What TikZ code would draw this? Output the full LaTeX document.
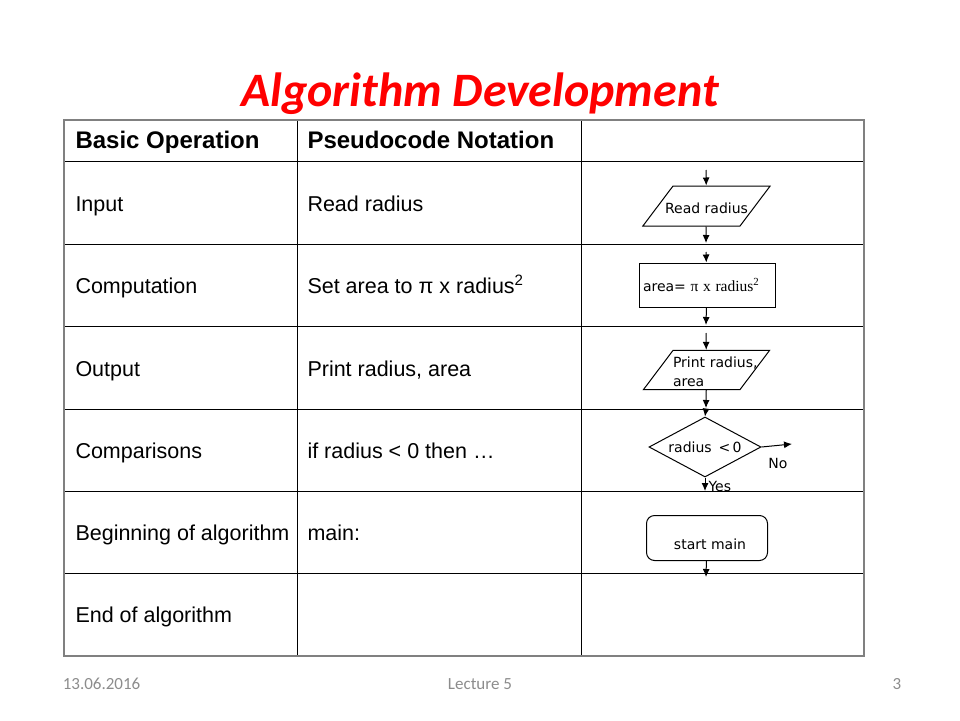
\documentclass[tikz,border=0pt]{standalone}
\usepackage{fontspec}
\setmainfont{Liberation Sans}
\newfontfamily\titlefont{Carlito}
\newfontfamily\chartfont{DejaVu Sans}
\newfontfamily\timesfont{Liberation Serif}
\usetikzlibrary{shapes,arrows.meta}

\definecolor{titlered}{RGB}{255,0,0}
\definecolor{framegray}{RGB}{128,128,128}
\definecolor{footgray}{RGB}{140,140,140}

\tikzset{
  cell/.style={anchor=base west,inner sep=0pt,font=\fontsize{21.5}{26}\selectfont},
  head/.style={cell,font=\bfseries\fontsize{24}{28}\selectfont},
  chart/.style={font=\chartfont\fontsize{14}{19}\selectfont},
  io/.style={chart,draw,trapezium,trapezium left angle=53,trapezium right angle=127,inner xsep=0pt},
  flow/.style={-{Latex[length=8pt,width=7pt]}},
  foot/.style={anchor=base,text=footgray,font=\titlefont\fontsize{17}{20}\selectfont}
}

\begin{document}
\begin{tikzpicture}[x=1pt,y=-1pt,line width=1pt]
\useasboundingbox (0,0) rectangle (960,720);
\node[anchor=base,text=titlered,font=\titlefont\bfseries\itshape\fontsize{48}{56}\selectfont] (title) at (480,106) {Algorithm Development};

% table
\foreach \y in {161,244,326,409,491,573}
  \draw (64,\y) -- (864,\y);
\draw (297,120) -- (297,656);
\draw (581,120) -- (581,656);
\draw[framegray,line width=2pt] (64,120) rectangle (864,656);

\node[head] (hop) at (75,148) {Basic Operation};
\node[head] (hps) at (307,148) {Pseudocode Notation};
\node[cell] (op1) at (75,211) {Input};
\node[cell] (ps1) at (307,211) {Read radius};
\node[cell] (op2) at (75,293) {Computation};
\node[cell] (ps2) at (307,293) {Set area to π x radius\textsuperscript{2}};
\node[cell] (op3) at (75,376) {Output};
\node[cell] (ps3) at (307,376) {Print radius, area};
\node[cell] (op4) at (75,458) {Comparisons};
\node[cell] (ps4) at (307,458) {if radius < 0 then …};
\node[cell] (op5) at (75,540) {Beginning of algorithm};
\node[cell] (ps5) at (307,540) {main:};
\node[cell] (op6) at (75,622) {End of algorithm};

% flowchart column
\node[io,inner ysep=12pt,text height=15pt,text depth=1pt] (read) at (706.5,206) {\makebox[67pt]{Read radius}};
\node[chart,draw,minimum height=44pt,inner xsep=4pt,text width=128pt,align=left] (comp) at (707,285)
  {area= {\timesfont\fontsize{15.5}{18}\selectfont π x radius\textsuperscript{2}}};
\node[io,text width=67pt,align=left,inner ysep=2.5pt] (print) at (706.5,370) {\rule{0pt}{15pt}\mbox{Print radius,}\\area};
\node[chart,draw,diamond,aspect=1.87,minimum width=112pt,minimum height=60pt,inner sep=0pt] (test) at (705,447) {radius \,<\,0};
\node[draw,rounded corners=8pt,minimum width=121pt,minimum height=45pt,
  label={[chart,xshift=3pt,yshift=-6pt]center:start main}] (start) at (707,538) {};

\coordinate (in1) at (706,170);
\coordinate (out1) at (706,243);
\coordinate (in2) at (706,252);
\coordinate (out2) at (706,325);
\coordinate (in3) at (706,333);
\coordinate (out3) at (706,408);
\coordinate (in4) at (706,409);
\coordinate (no) at (792,444);
\coordinate (yes) at (705,491);
\coordinate (out5) at (706,577);

\draw[flow] (in1) -- (read);
\draw[flow] (read) -- (out1);
\draw[flow] (in2) -- (comp);
\draw[flow] (comp) -- (out2);
\draw[flow] (in3) -- (print);
\draw[flow] (print) -- (out3);
\draw[flow] (in4) -- (test.north);
\draw[flow] (test.east) -- (no);
\draw[flow] (test.south) -- (yes);
\draw[flow] (start) -- (out5);
\node[chart] (nolabel) at (778,463) {No};
\node[chart,anchor=west,inner sep=1pt] (yeslabel) at (707,486) {Yes};

% footer
\node[foot,anchor=base west] (date) at (59,689) {13.06.2016};
\node[foot] (lecture) at (480,689) {Lecture 5};
\node[foot] (page) at (897,689) {3};
\end{tikzpicture}
\end{document}
